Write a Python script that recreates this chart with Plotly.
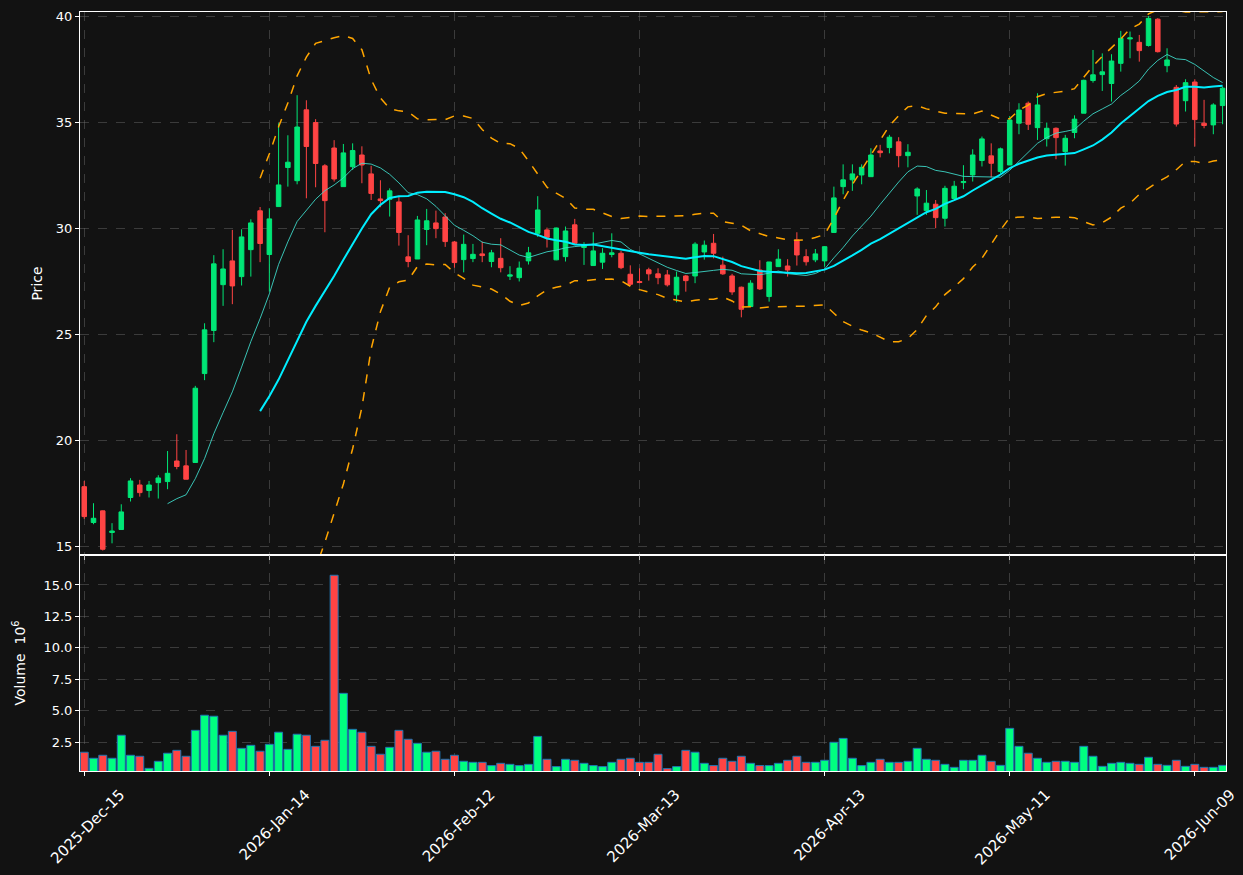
import pandas as pd
import plotly.graph_objects as go
from plotly.subplots import make_subplots

# ---- data ----
holidays = ["2025-12-25", "2026-01-01", "2026-01-19", "2026-02-16", "2026-04-03", "2026-05-25"]
n_bars = 124
dates = pd.bdate_range("2025-12-15", periods=n_bars, freq="C", holidays=holidays)
date_labels = [d.strftime("%Y-%b-%d") for d in dates]

opens = [17.82, 16.13, 16.68, 15.66, 15.80, 17.31, 17.90, 17.64, 18.01, 18.06,
         19.03, 18.80, 18.96, 23.15, 25.18, 27.34, 28.46, 27.72, 28.99, 30.82,
         28.76, 31.02, 32.86, 32.24, 35.58, 34.98, 32.94, 33.78, 31.96, 32.90,
         33.45, 32.56, 31.38, 31.36, 31.24, 28.65, 28.55, 29.94, 30.25, 30.53,
         29.35, 28.52, 28.57, 28.79, 28.43, 28.58, 27.74, 27.67, 28.46, 29.76,
         29.92, 28.51, 28.66, 30.16, 29.09, 28.24, 28.40, 28.76, 28.82, 27.83,
         27.49, 28.04, 27.85, 27.80, 26.86, 27.75, 27.75, 28.88, 29.29, 28.26,
         27.75, 27.22, 26.31, 28.03, 26.78, 28.19, 28.22, 29.45, 28.66, 28.51,
         28.46, 29.80, 31.96, 32.28, 32.51, 32.43, 33.64, 33.80, 34.07, 33.42,
         31.52, 30.83, 31.13, 30.47, 31.40, 32.15, 32.51, 33.19, 33.41, 32.67,
         32.98, 34.95, 35.89, 34.74, 34.22, 34.71, 33.61, 34.51, 35.42, 36.96,
         37.24, 36.82, 37.77, 38.92, 38.76, 38.61, 39.85, 37.66, 36.64, 36.01,
         36.89, 34.95, 34.87, 35.78]
highs = [18.09, 17.04, 16.70, 16.10, 16.99, 18.22, 18.14, 18.09, 18.36, 19.50,
         20.29, 19.55, 22.57, 25.52, 28.73, 29.01, 29.92, 29.95, 30.42, 31.00,
         30.94, 34.95, 34.38, 36.27, 36.03, 35.14, 33.02, 34.15, 33.97, 34.00,
         33.86, 32.94, 32.26, 31.88, 31.49, 29.67, 30.58, 30.91, 30.83, 30.71,
         29.40, 29.70, 29.26, 29.37, 28.98, 29.53, 28.21, 28.43, 29.12, 31.51,
         30.03, 30.03, 30.08, 30.44, 29.34, 29.81, 29.06, 29.76, 28.93, 28.25,
         28.11, 28.14, 28.11, 28.03, 27.96, 27.80, 29.34, 29.42, 29.73, 28.66,
         27.85, 27.25, 27.55, 28.49, 28.41, 29.01, 28.54, 29.81, 29.01, 29.02,
         29.15, 31.96, 33.01, 33.01, 33.01, 33.77, 33.93, 34.40, 34.29, 33.96,
         31.93, 31.80, 31.33, 32.00, 32.23, 32.97, 33.72, 34.32, 34.00, 33.80,
         35.29, 35.89, 35.97, 36.36, 34.98, 34.75, 34.40, 35.32, 37.00, 38.40,
         38.24, 38.20, 39.30, 39.27, 39.11, 40.00, 39.90, 38.48, 36.75, 37.02,
         37.02, 36.05, 35.89, 36.67]
lows = [16.30, 16.05, 14.81, 15.15, 15.78, 17.12, 17.35, 17.31, 17.26, 17.70,
        18.64, 18.17, 18.96, 22.84, 24.63, 26.34, 26.42, 27.30, 27.72, 28.40,
        27.01, 31.02, 31.96, 32.07, 31.41, 31.93, 29.81, 32.20, 31.96, 32.75,
        32.12, 31.33, 30.99, 30.55, 29.18, 28.16, 28.55, 29.20, 29.53, 29.12,
        28.14, 27.92, 28.40, 28.40, 28.16, 27.92, 27.56, 27.49, 28.29, 29.59,
        29.09, 28.49, 28.43, 29.21, 28.27, 28.24, 28.08, 28.63, 28.07, 27.28,
        27.41, 27.53, 27.36, 27.25, 26.51, 27.01, 27.41, 28.52, 28.58, 27.80,
        26.86, 25.80, 26.31, 27.09, 26.54, 28.19, 27.72, 28.24, 28.24, 28.40,
        28.19, 29.80, 31.60, 31.76, 32.07, 32.43, 33.34, 33.53, 32.87, 32.87,
        30.63, 30.63, 30.00, 30.08, 31.40, 31.84, 32.20, 32.91, 32.40, 32.59,
        32.98, 34.43, 34.63, 34.16, 33.85, 33.25, 32.95, 34.24, 35.42, 36.86,
        36.47, 35.97, 37.38, 38.01, 37.85, 38.56, 38.28, 37.35, 34.79, 35.50,
        33.85, 34.71, 34.43, 34.90]
closes = [16.41, 16.33, 14.87, 15.73, 16.63, 18.09, 17.54, 17.90, 18.23, 18.45,
          18.77, 18.17, 22.46, 25.21, 28.32, 28.08, 27.28, 29.59, 30.25, 29.28,
          30.44, 32.04, 33.11, 34.77, 33.85, 33.05, 31.30, 32.32, 33.55, 33.66,
          32.98, 31.64, 31.30, 31.76, 29.80, 28.43, 30.39, 30.35, 29.98, 29.37,
          28.38, 29.24, 28.77, 28.71, 28.84, 28.14, 27.80, 28.12, 28.84, 30.86,
          29.57, 30.01, 29.87, 29.29, 29.21, 28.93, 28.82, 28.84, 28.14, 27.36,
          27.44, 27.85, 27.67, 27.33, 27.69, 27.53, 29.25, 29.20, 28.82, 27.85,
          27.00, 26.18, 27.41, 27.14, 28.41, 28.54, 28.03, 28.74, 28.42, 28.79,
          29.13, 31.43, 32.28, 32.56, 32.87, 33.45, 33.56, 34.29, 33.42, 33.58,
          31.85, 31.18, 30.50, 31.88, 31.98, 32.20, 33.45, 34.21, 33.06, 33.74,
          35.10, 35.57, 34.90, 35.81, 34.71, 34.27, 34.24, 35.14, 36.97, 37.23,
          37.37, 37.88, 38.95, 38.97, 38.37, 39.89, 38.32, 37.93, 34.91, 36.86,
          35.12, 34.84, 35.81, 36.60]
volumes = [1.71, 1.23, 1.47, 1.23, 3.06, 1.47, 1.39, 0.43, 0.99, 1.63,
           1.86, 1.39, 3.45, 4.65, 4.57, 3.06, 3.37, 2.02, 2.26, 1.79,
           2.34, 3.30, 1.94, 3.14, 3.06, 2.18, 2.66, 15.77, 6.39, 3.53,
           3.30, 2.18, 1.55, 2.10, 3.45, 2.74, 2.42, 1.71, 1.79, 1.15,
           1.47, 0.99, 0.91, 0.91, 0.65, 0.83, 0.75, 0.65, 0.75, 2.97,
           1.15, 0.57, 1.15, 1.07, 0.83, 0.65, 0.57, 0.91, 1.15, 1.23,
           0.91, 0.91, 1.55, 0.41, 0.57, 1.86, 1.71, 0.83, 0.65, 1.23,
           0.99, 1.39, 0.83, 0.65, 0.65, 0.83, 1.07, 1.39, 0.91, 0.91,
           1.07, 2.50, 2.81, 1.23, 0.65, 0.91, 1.15, 0.91, 0.91, 0.99,
           2.02, 1.15, 1.07, 0.75, 0.51, 1.07, 1.07, 1.47, 0.99, 0.67,
           3.61, 2.18, 1.63, 1.23, 0.91, 0.99, 0.99, 0.91, 2.18, 1.39,
           0.59, 0.83, 0.91, 0.83, 0.75, 1.31, 0.75, 0.67, 1.07, 0.59,
           0.75, 0.51, 0.51, 0.67]
tick_every = 20

# ---- derived indicators (from the closes, as the original chart does) ----
close_s = pd.Series(closes)
ma_short = close_s.rolling(10).mean()
ma_long = close_s.rolling(20).mean()
bb_std = close_s.rolling(20).std()
bb_upper = ma_long + 2 * bb_std
bb_lower = ma_long - 2 * bb_std

UP = "#00e676"
DOWN = "#ff4444"
VUP = "#00ff80"
BG = "#121212"
GRID = "rgba(110,110,110,0.45)"

vol_colors = [VUP if c >= o else DOWN for o, c in zip(opens, closes)]

fig = make_subplots(rows=2, cols=1, shared_xaxes=True, vertical_spacing=0,
                    row_heights=[0.7154, 0.2846])

fig.add_trace(go.Candlestick(
    x=date_labels, open=opens, high=highs, low=lows, close=closes,
    increasing=dict(line=dict(color=UP, width=1), fillcolor=UP),
    decreasing=dict(line=dict(color=DOWN, width=1), fillcolor=DOWN),
    whiskerwidth=0, showlegend=False), row=1, col=1)

fig.add_trace(go.Scatter(x=date_labels, y=bb_upper, mode="lines",
                         line=dict(color="#ffa500", width=1.5, dash="dash"),
                         showlegend=False, hoverinfo="skip"), row=1, col=1)
fig.add_trace(go.Scatter(x=date_labels, y=bb_lower, mode="lines",
                         line=dict(color="#ffa500", width=1.5, dash="dash"),
                         showlegend=False, hoverinfo="skip"), row=1, col=1)
fig.add_trace(go.Scatter(x=date_labels, y=ma_short, mode="lines",
                         line=dict(color="rgba(64,224,208,0.85)", width=1),
                         showlegend=False), row=1, col=1)
fig.add_trace(go.Scatter(x=date_labels, y=ma_long, mode="lines",
                         line=dict(color="#00eeff", width=2),
                         showlegend=False), row=1, col=1)

fig.add_trace(go.Bar(x=date_labels, y=volumes, marker=dict(color=vol_colors,
                     line=dict(color="#1f77b4", width=1)),
                     showlegend=False), row=2, col=1)

tickvals = date_labels[::tick_every]
xr = [-0.46, n_bars - 1 + 0.37]
common_x = dict(type="category", range=xr, showline=True, linecolor="white",
                linewidth=1, mirror=True, showgrid=True, gridcolor=GRID,
                griddash="dash", gridwidth=1, tickvals=tickvals,
                ticks="outside", tickcolor="white", ticklen=4, automargin=False,
                rangeslider=dict(visible=False), zeroline=False)
fig.update_xaxes(**common_x, showticklabels=False, row=1, col=1)
fig.update_xaxes(**common_x, showticklabels=True, ticktext=tickvals,
                 tickangle=-45, tickfont=dict(size=15, color="white"),
                 ticklabelshift=36, ticklabelstandoff=4, row=2, col=1)

common_y = dict(showline=True, linecolor="white", linewidth=1, mirror=True,
                showgrid=True, gridcolor=GRID, griddash="dash", gridwidth=1,
                ticks="outside", tickcolor="white", ticklen=4, zeroline=False,
                automargin=False, tickfont=dict(size=13, color="white"))
fig.update_yaxes(**common_y, range=[14.6, 40.19], tickvals=[15, 20, 25, 30, 35, 40],
                 title=dict(text="Price", font=dict(size=14, color="white"), standoff=9),
                 row=1, col=1)
fig.update_yaxes(**common_y, range=[0.22, 17.38],
                 tickvals=[2.5, 5.0, 7.5, 10.0, 12.5, 15.0], tickformat=".1f",
                 title=dict(text="Volume  10<sup>6</sup>", font=dict(size=14, color="white"),
                            standoff=14),
                 row=2, col=1)

fig.update_layout(width=1243, height=875, paper_bgcolor=BG, plot_bgcolor=BG,
                  margin=dict(l=80, r=17, t=12, b=104, autoexpand=False), bargap=0.14,
                  font=dict(family="DejaVu Sans", color="white", size=13),
                  showlegend=False)

fig.write_html("out.html")
